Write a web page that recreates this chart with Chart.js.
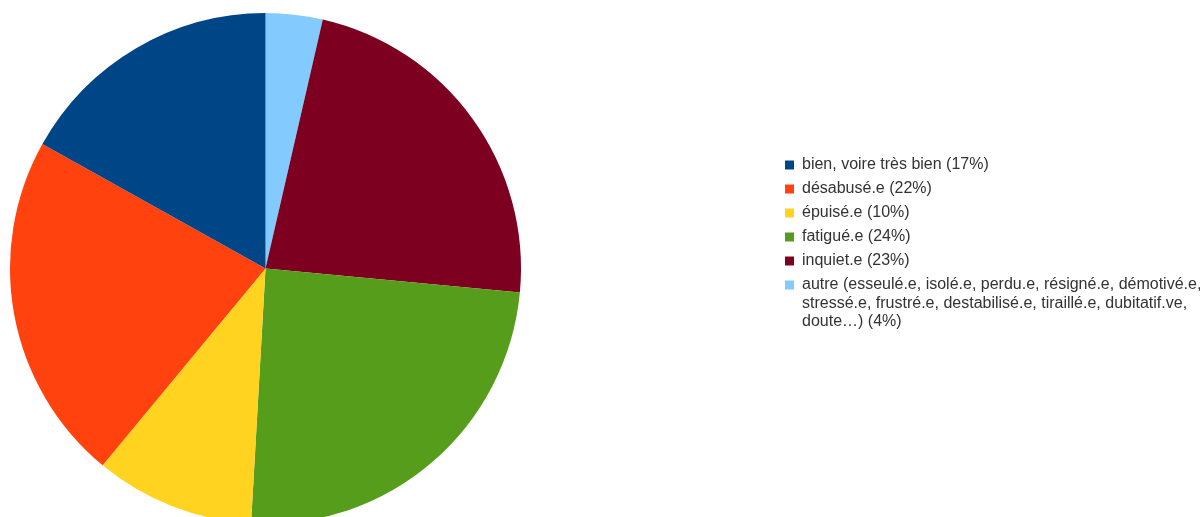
<!DOCTYPE html>
<html>
<head>
<meta charset="utf-8">
<script src="https://cdn.jsdelivr.net/npm/chart.js@4"></script>
<style>
  html, body { margin: 0; padding: 0; background: #ffffff; overflow: hidden; }
  #wrap { position: relative; width: 1203px; height: 540px; }
</style>
</head>
<body>
<div id="wrap"><canvas id="c"></canvas></div>
<script>
// Legend order (as shown in the legend)
const categories = [
  'bien, voire très bien (17%)',
  'désabusé.e (22%)',
  'épuisé.e (10%)',
  'fatigué.e (24%)',
  'inquiet.e (23%)',
  ['autre (esseulé.e, isolé.e, perdu.e, résigné.e, démotivé.e,',
   'stressé.e, frustré.e, destabilisé.e, tiraillé.e, dubitatif.ve,',
   'doute…) (4%)']
];
const values = [16.9, 22.1, 10.1, 24.4, 22.9, 3.6];
const colors = ['#004586', '#ff420e', '#ffd320', '#579d1c', '#7e0021', '#83caff'];

// The pie runs clockwise from 12 o'clock in reverse legend order
const pieLabels = categories.slice().reverse();
const pieValues = values.slice().reverse();
const pieColors = colors.slice().reverse();

const placeLegend = {
  id: 'placeLegend',
  afterLayout(chart) {
    const lg = chart.legend;
    if (!lg) return;
    lg.left = 777;
    lg.right = 1203;
    lg.width = 426;
    lg.top = 149;
    lg.bottom = 560;
    lg.height = lg.bottom - lg.top;
  }
};

new Chart(document.getElementById('c'), {
  type: 'pie',
  data: {
    labels: pieLabels,
    datasets: [{
      data: pieValues,
      backgroundColor: pieColors,
      borderWidth: 0,
      hoverOffset: 0
    }]
  },
  options: {
    responsive: true,
    maintainAspectRatio: false,
    animation: false,
    rotation: 0,
    layout: { padding: { left: 10, right: 682, top: 13, bottom: 16 } },
    plugins: {
      tooltip: { enabled: false },
      legend: {
        display: true,
        position: 'chartArea',
        align: 'start',
        reverse: true,
        labels: {
          boxWidth: 9,
          boxHeight: 9,
          padding: 8,
          color: '#333333',
          font: { family: '"Liberation Sans", Arial, sans-serif', size: 16, lineHeight: 1.15 }
        }
      }
    }
  },
  plugins: [placeLegend]
});
</script>
</body>
</html>
